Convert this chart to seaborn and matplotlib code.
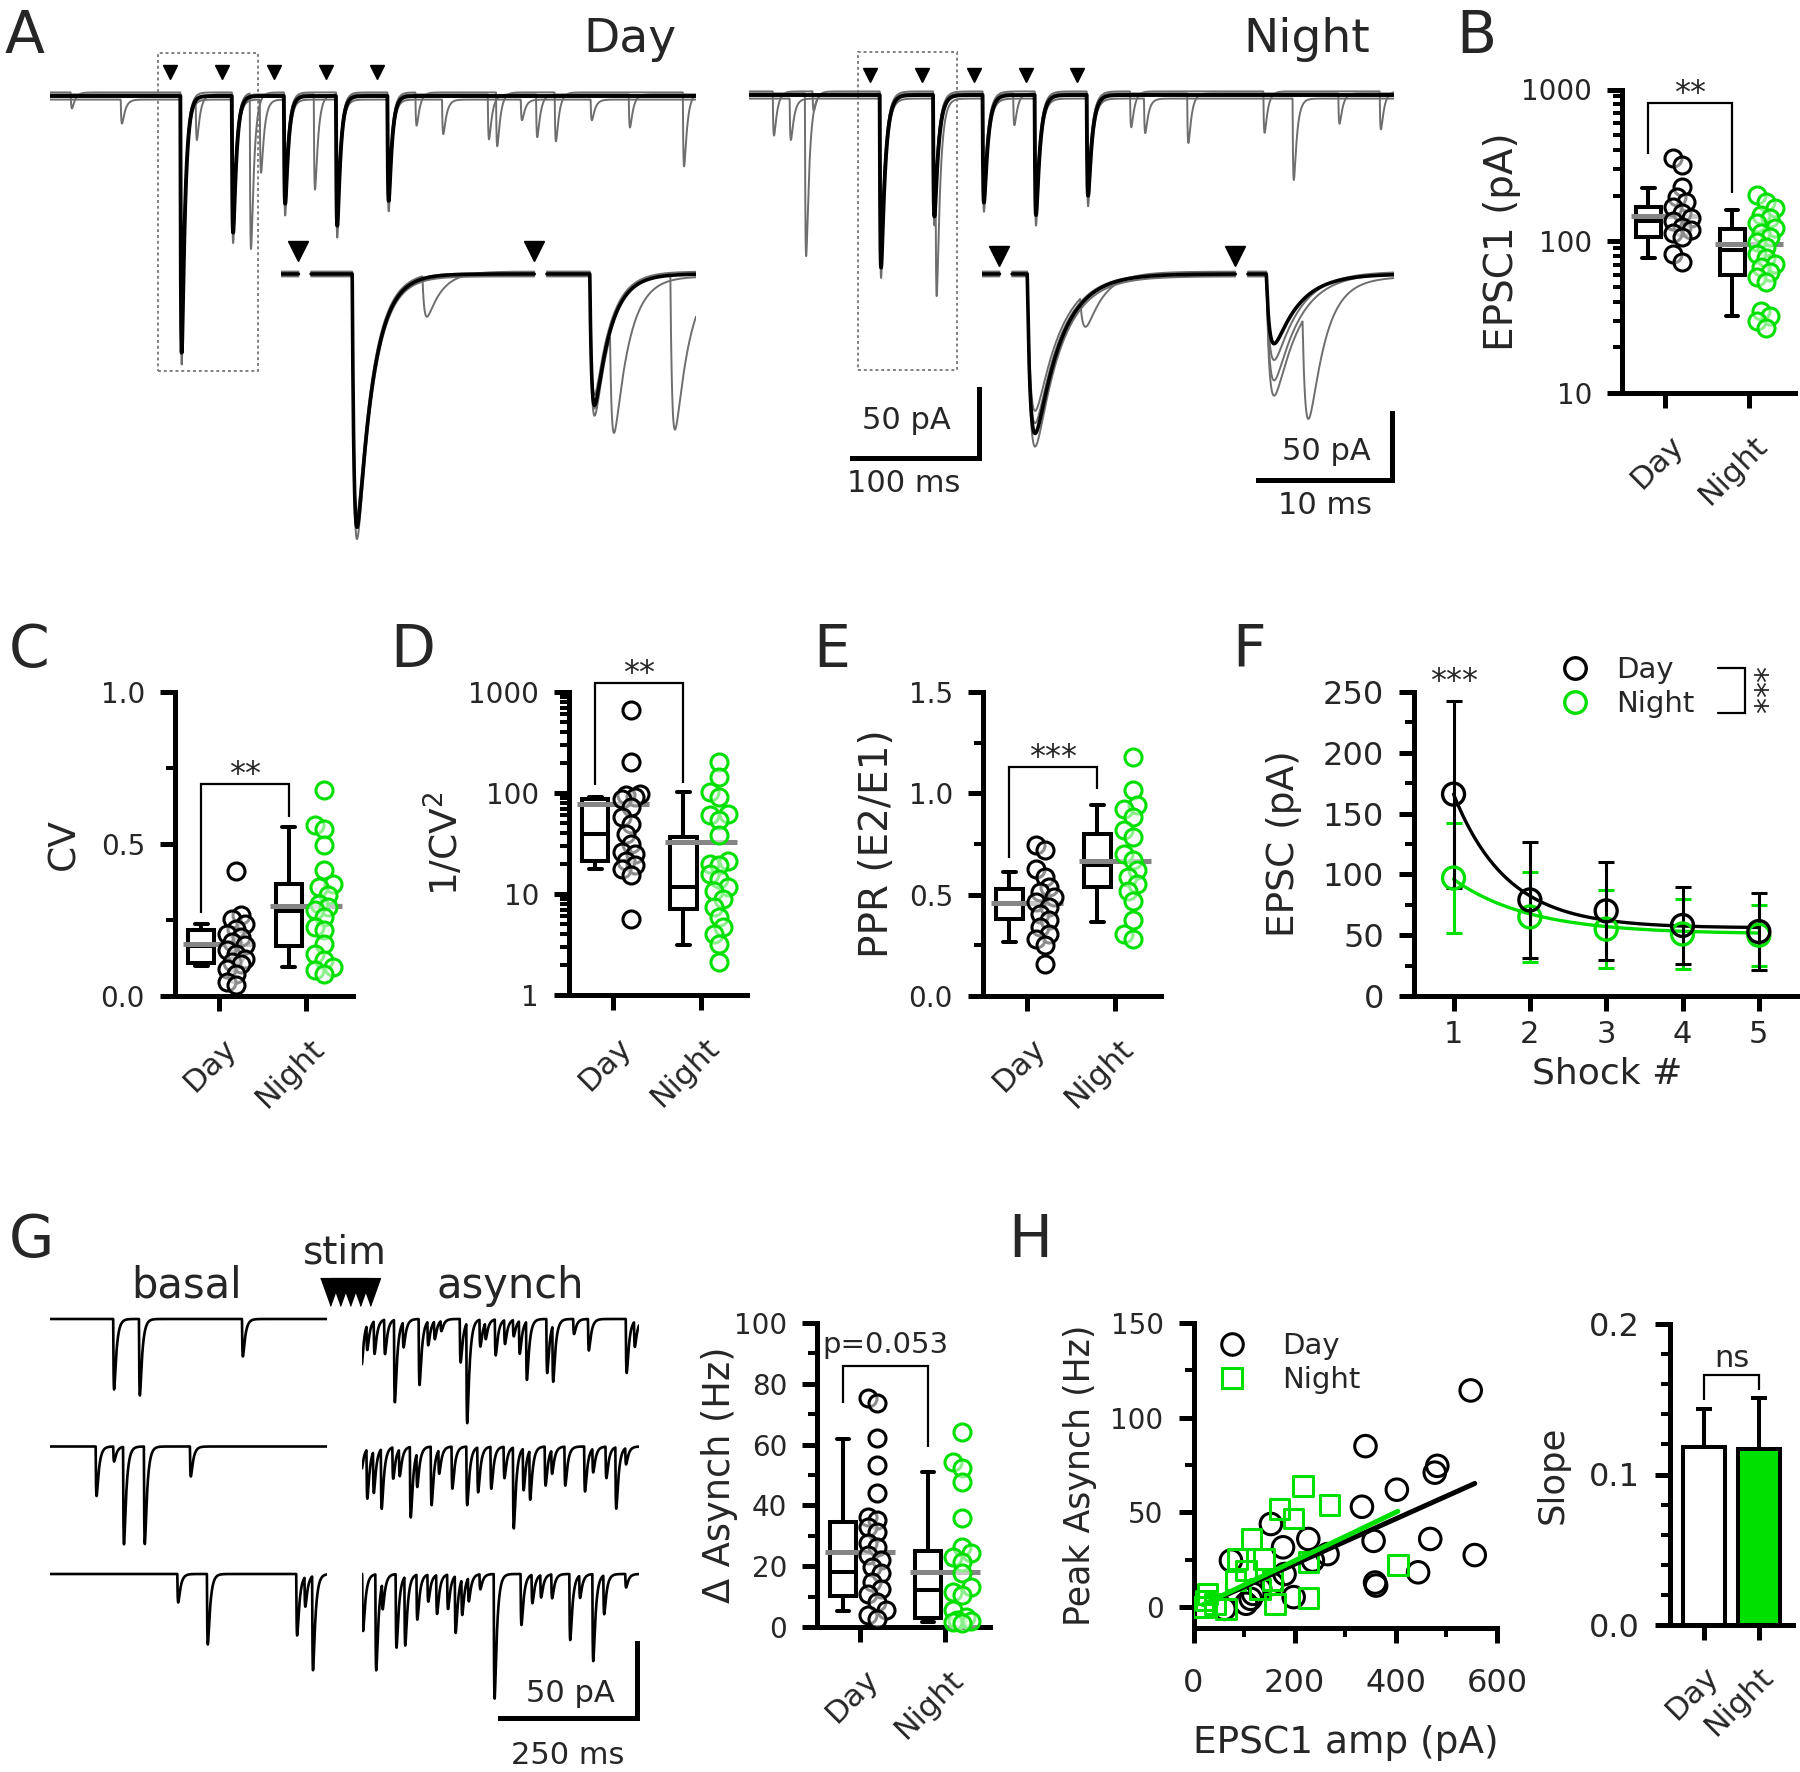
import numpy as np
import pandas as pd
import matplotlib
matplotlib.use("Agg")
import matplotlib.pyplot as plt
import matplotlib.transforms as mtransforms
from matplotlib.lines import Line2D
from matplotlib.patches import Rectangle
from matplotlib.ticker import (MultipleLocator, FixedLocator, FuncFormatter,
                               NullFormatter, NullLocator, LogLocator)
import seaborn as sns

# ======================= DATA =======================
GROUPS = ["Day", "Night"]

# ---- A: example traces (event peak times in ms, amplitudes in pA) ----
A_STIM_MS = [95, 136, 177, 218, 258]
A_DAY_PEAK_MS = [104, 144.5, 185.5, 226.5, 267]
A_DAY_AMP = [186, 99, 78, 94, 76]
A_DAY_SWEEPS = [[178, 92, 70, 88, 70], [192, 104, 84, 100, 81], [170, 86, 64, 82, 66]]
A_DAY_MINI_MS = [17.6, 57, 116, 158.6, 166.5, 209, 289, 310, 346, 352.5, 372, 384, 398.7, 427, 457, 499.6]
A_DAY_MINI_PA = [11.6, 17.4, 31, 113, 53, 69, 24, 25, 32.6, 39, 15, 31, 35.5, 15, 24, 53.6]
A_NIGHT_PEAK_MS = [104, 146, 185, 226, 267]
A_NIGHT_AMP = [125, 88, 78, 87, 73]
A_NIGHT_SWEEPS = [[115, 80, 70, 80, 66], [130, 92, 82, 92, 78], [108, 74, 64, 75, 60]]
A_NIGHT_MINI_MS = [19.7, 33, 45, 51, 148, 209, 301, 312, 346, 406, 429, 465, 497.6]
A_NIGHT_MINI_PA = [32, 30, 118, 14, 83, 23, 26, 25, 36, 30, 59, 22, 27.5]

A_INSET_STIM_MS = [1.3, 18.9]
A_DAY_INSET_PEAK_MS = [5.67, 23.4]
A_DAY_INSET_AMP = [189, 98]
A_DAY_INSET_SWEEPS = [[181, 92], [196, 104], [184, 101]]
A_DAY_INSET_MINI_MS = [10.9, 24.9, 29.4]
A_DAY_INSET_MINI_PA = [31, 82, 116]
A_NIGHT_INSET_PEAK_MS = [3.96, 21.8]
A_NIGHT_INSET_AMP = [119, 52]
A_NIGHT_INSET_SWEEPS = [[104, 66], [127, 89], [112, 80]]
A_NIGHT_INSET_MINI_MS = [7.8, 24.4]
A_NIGHT_INSET_MINI_PA = [25, 80]

# ---- B: EPSC1 (pA) ----
B_DAY_BOX = [77, 107, 135, 169, 226]          # whisker-low, Q1, median, Q3, whisker-high
B_NIGHT_BOX = [32, 60, 87, 120, 161]
B_MEAN = [147, 95.5]
B_DAY_PTS = [352, 318, 229, 197, 182, 169, 153, 142, 135, 125, 119, 113, 107, 83, 73]
B_NIGHT_PTS = [202, 182, 165, 149, 142, 131, 122, 113, 107, 99, 92, 83, 77, 71, 68, 63,
               58.5, 54, 34.5, 32, 29.6, 26.8]

# ---- C: CV ----
C_DAY_BOX = [0.099, 0.107, 0.165, 0.216, 0.236]
C_NIGHT_BOX = [0.095, 0.163, 0.28, 0.37, 0.556]
C_MEAN = [0.17, 0.296]
C_DAY_PTS = [0.41, 0.265, 0.254, 0.238, 0.221, 0.205, 0.194, 0.178, 0.167, 0.15, 0.139,
             0.123, 0.112, 0.106, 0.09, 0.073, 0.046, 0.035]
C_NIGHT_PTS = [0.677, 0.561, 0.55, 0.496, 0.413, 0.37, 0.359, 0.331, 0.304, 0.293, 0.282,
               0.26, 0.227, 0.216, 0.172, 0.139, 0.117, 0.095, 0.084, 0.073]

# ---- D: 1/CV^2 ----
D_DAY_BOX = [17.7, 21.3, 39.5, 88, 91]
D_NIGHT_BOX = [3.15, 7.1, 11.7, 36.5, 101.6]
D_MEAN = [78, 32.6]
D_DAY_PTS = [657, 202, 98, 95, 91, 88, 72, 57.5, 49.6, 39.5, 31.3, 26, 25, 21.3, 19.2,
             17.7, 15.3, 5.66]
D_NIGHT_PTS = [202, 143, 102, 91, 62, 60, 53.6, 38, 21.3, 20, 19.2, 15.8, 14.1, 11.7,
               10.8, 8.9, 7.4, 5.9, 4.7, 4.0, 3.2, 2.1]

# ---- E: PPR ----
E_DAY_BOX = [0.266, 0.382, 0.46, 0.53, 0.612]
E_NIGHT_BOX = [0.365, 0.538, 0.645, 0.80, 0.94]
E_MEAN = [0.459, 0.666]
E_DAY_PTS = [0.743, 0.72, 0.628, 0.587, 0.538, 0.513, 0.49, 0.464, 0.44, 0.406, 0.373,
             0.34, 0.307, 0.283, 0.25, 0.16]
E_NIGHT_PTS = [1.18, 1.015, 0.94, 0.924, 0.883, 0.817, 0.785, 0.702, 0.67, 0.62, 0.587,
               0.554, 0.52, 0.47, 0.373, 0.307, 0.283]

# ---- F: EPSC vs shock ----
SHOCK = [1, 2, 3, 4, 5]
F_DAY_MEAN = [166, 79, 70, 58, 53]
F_DAY_SD = [77, 48, 40, 32, 32]
F_NIGHT_MEAN = [97, 65, 55, 51, 50]
F_NIGHT_SD = [45, 37, 32, 29, 25]
F_DAY_FIT = (56, 110, 0.7)     # plateau, span, tau (shocks)
F_NIGHT_FIT = (51, 45, 1.0)

# ---- G: traces + delta asynch ----
G_BASAL_ROWS_MS = [[117, 164, 352], [85, 117, 135, 173, 257], [234, 288, 451, 466, 480]]
G_BASAL_ROWS_PA = [[47, 51, 25], [33, 10, 65, 65, 20], [19, 47, 41, 20, 63]]
G_ASYNCH_ROWS_MS = [
    [-1, 9.8, 23, 42, 60, 76, 105, 121, 133, 145, 180, 192, 216, 226, 244, 261, 277, 288,
     301, 338, 349, 387, 414, 483, 498],
    [-1, 9.8, 21.7, 36, 57, 69, 89, 101, 127, 141, 165, 192, 212, 236, 260, 277, 295, 307,
     335, 347, 371, 407, 422, 446, 464, 482],
    [2, 26, 38, 63, 79, 101, 121, 137, 157, 171, 183, 195, 216, 242, 291, 311, 327, 347,
     380, 398, 422, 442, 482]]
G_ASYNCH_ROWS_PA = [
    [33, 17, 22, 23, 55, 17, 44, 16, 12, 7, 29, 67, 18, 11, 24, 16, 11, 22, 39, 36, 38, 10,
     21, 36, 17],
    [16, 33, 28, 40, 21, 18, 47, 23, 39, 16, 28, 39, 30, 28, 21, 54, 28, 33, 26, 16, 26, 30,
     16, 21, 41, 11],
    [38, 64, 18, 49, 46, 30, 18, 26, 23, 38, 24, 16, 10, 83, 34, 19, 15, 16, 44, 15, 58, 26, 9]]
G_STIM_MS = [511, 529, 548, 566, 584]

G_DAY_BOX = [5.2, 10.1, 18.1, 34.6, 61.8]
G_NIGHT_BOX = [1.6, 3.0, 12.3, 25.1, 51.1]
G_MEAN = [24.7, 18.1]
G_DAY_PTS = [75.3, 73.8, 62.1, 53.3, 44, 36.3, 35.2, 33, 31.3, 27.5, 26.4, 23.6, 22, 19.8,
             17.6, 14.8, 12.6, 11, 8.2, 5.5, 3.8, 2.7]
G_NIGHT_PTS = [64.3, 54.4, 52.2, 47.8, 35.7, 26.4, 24.2, 23.1, 21.4, 17.6, 13.2, 11.5, 10.4,
               5.5, 3.3, 2.2, 2.0, 1.6, 1.3]

# ---- H: peak asynch vs EPSC1 ----
H_DAY_X = [548, 340, 482, 477, 402, 333, 153, 227, 356, 468, 177, 265, 556, 74, 236, 180,
           444, 359, 361, 156, 132, 198, 113, 104, 61, 118]
H_DAY_Y = [114.4, 85, 74.6, 71, 62, 53, 43.9, 36, 35, 36, 31.6, 28, 27.5, 24.6, 24.6, 17.5,
           18.4, 13, 11.4, 12.3, 9.6, 5.3, 4.4, 1.8, -0.9, 7]
H_NIGHT_X = [217, 269, 170, 198, 115, 404, 87, 140, 227, 104, 83, 156, 132, 28, 227, 161,
             24, 43, 19, 64]
H_NIGHT_Y = [64, 53.9, 51.8, 46.8, 36, 22.3, 25.4, 25.4, 24, 19.3, 14, 14, 9.6, 7, 4.7, 1.8,
             3.5, 1.8, 0, -0.9]
H_DAY_FIT = (0.1196, -1.2)     # slope, intercept
H_NIGHT_FIT = (0.128, -1.1)
SLOPE_MEAN = [0.1185, 0.117]
SLOPE_ERR = [0.0248, 0.0336]

# ======================= STYLE / HELPERS =======================
W, H, DPI = 1800, 1772, 100
GREEN = "#00e000"
GRAY_TRACE = "#6e6e6e"
MEAN_GRAY = "#858585"

sns.set_theme(style="ticks")
plt.rcParams["font.family"] = ["DejaVu Sans"]
plt.rcParams["mathtext.default"] = "regular"

fig = plt.figure(figsize=(W / DPI, H / DPI), dpi=DPI)
fig.patch.set_facecolor("white")


def add_ax(x0, y0, x1, y1):
    ax = fig.add_axes([x0 / W, 1 - y1 / H, (x1 - x0) / W, (y1 - y0) / H])
    ax.patch.set_visible(False)
    return ax


def ftext(x, y, s, **kw):
    return fig.text(x / W, 1 - y / H, s, **kw)


def fline(xs, ys, **kw):
    fig.add_artist(Line2D(np.asarray(xs, float) / W, 1 - np.asarray(ys, float) / H,
                          transform=fig.transFigure, **kw))


def style(ax, ysize=20, xsize=None, xpad=10.8, ypad=10.8):
    sns.despine(ax=ax)
    for sp in ("left", "bottom"):
        ax.spines[sp].set_linewidth(3.6)
        ax.spines[sp].set_color("black")
        ax.spines[sp].set_capstyle("projecting")
    ax.tick_params(which="major", direction="out", length=10.8, width=3.6, color="black")
    ax.tick_params(which="minor", direction="out", length=6.5, width=2.9, color="black")
    ax.tick_params(axis="y", labelsize=ysize, pad=ypad)
    ax.tick_params(axis="x", labelsize=xsize or ysize, pad=xpad)


def cat_axis(ax, dx=14, dy=47, size=22.5):
    ax.set_xticks([0, 1])
    ax.set_xticklabels(["", ""])
    ax.xaxis.set_minor_locator(NullLocator())
    ax.set_xlabel("")
    tr = (mtransforms.blended_transform_factory(ax.transData, ax.transAxes)
          + mtransforms.ScaledTranslation(dx / DPI, -dy / DPI, fig.dpi_scale_trans))
    for x, lab in zip([0, 1], GROUPS):
        ax.text(x, 0, lab, transform=tr, rotation=45, ha="right", va="center",
                rotation_mode="anchor", fontsize=size)


def ylab(ax, text, xc, x0, x1, size):
    ax.set_ylabel(text, fontsize=size, rotation=90, ha="center", va="center")
    ax.yaxis.set_label_coords((xc - x0) / (x1 - x0), 0.5)


def swarm_offsets(ax, x0, vals, diam=17.0, step=4.5, ncand=2, min_frac=0.62):
    vals = np.asarray(vals, float)
    disp = ax.transData.transform(np.column_stack([np.full(len(vals), x0), vals]))
    ys = disp[:, 1]
    ppu = ax.transData.transform([(x0 + 1, vals[0])])[0, 0] - disp[0, 0]
    cands = [0]
    for k in range(1, ncand + 1):
        cands += [-k, k]
    placed, offs = [], np.zeros(len(vals))
    for i in np.argsort(ys):
        best, best_d = 0.0, -1.0
        for c in cands:
            xo = c * step
            d = min((np.hypot(xo - px, ys[i] - py) for px, py in placed), default=1e9)
            if d >= min_frac * diam:
                best = xo
                break
            if d > best_d:
                best_d, best = d, xo
        placed.append((best, ys[i]))
        offs[i] = best / ppu
    return offs


def bracket(ax, x1, x2, top, y1, y2, text, dy_text=1, fs=23):
    ax.plot([x1, x1, x2, x2], [y1, top, top, y2], color="black", lw=1.6, clip_on=False,
            solid_joinstyle="miter", solid_capstyle="butt", zorder=5)
    tr = ax.transData + mtransforms.ScaledTranslation(0, dy_text / DPI, fig.dpi_scale_trans)
    ax.text((x1 + x2) / 2, top, text, transform=tr, ha="center", va="baseline",
            fontsize=fs, clip_on=False)


def box_panel(rect, box_day, box_night, pts_day, pts_night, means, ylim, xlim, log=False):
    ax = add_ax(*rect)
    df = pd.DataFrame({"pos": [-0.2] * 5 + [0.8] * 5, "val": list(box_day) + list(box_night)})
    sns.boxplot(data=df, x="pos", y="val", native_scale=True, whis=(0, 100), width=0.3,
                color="white", linecolor="black", linewidth=2.9, showfliers=False,
                log_scale=(False, True) if log else None, ax=ax)
    ax.set_xlim(*xlim)
    ax.set_ylim(*ylim)
    ax.hlines(means, [-0.41, 0.59], [0.41, 1.41], colors=MEAN_GRAY, lw=3.6, zorder=3)
    for x0, pts, col in [(0.2, pts_day, "black"), (1.2, pts_night, GREEN)]:
        offs = swarm_offsets(ax, x0, pts)
        sns.scatterplot(x=x0 + offs, y=pts, ax=ax, s=150, facecolor=(1, 1, 1, 0.55),
                        edgecolor=col, linewidth=2.2, zorder=4, legend=False, clip_on=False)
    style(ax)
    cat_axis(ax)
    return ax


def log_fmt(ax, majors):
    ax.yaxis.set_major_locator(FixedLocator(majors))
    ax.yaxis.set_minor_locator(LogLocator(base=10, subs=np.arange(2, 10)))
    ax.yaxis.set_major_formatter(FuncFormatter(lambda v, p: f"{v:g}"))
    ax.yaxis.set_minor_formatter(NullFormatter())


def epsc(t, t_peak, amp, tr, td):
    tp = tr * td / (td - tr) * np.log(td / tr)
    s = np.clip(t - (t_peak - tp), 0, None)
    norm = np.exp(-tp / td) - np.exp(-tp / tr)
    return -amp * (np.exp(-s / td) - np.exp(-s / tr)) / norm


def build(t, peaks, amps, tr, td):
    y = np.zeros_like(t)
    for p, a in zip(peaks, amps):
        y += epsc(t, p, a, tr, td)
    return y


def trace_axes(x0, x1, y0, y1, base, px_ms, px_pa):
    ax = add_ax(x0, y0, x1, y1)
    ax.set_xlim(0, (x1 - x0) / px_ms)
    ax.set_ylim(-(y1 - base) / px_pa, (base - y0) / px_pa)
    ax.axis("off")
    return ax


def scalebar(ax, t_corner, pa_corner, dt, dpa, lab_v, lab_h, off_v, off_h, fs=22):
    ax.plot([t_corner - dt, t_corner, t_corner], [pa_corner, pa_corner, pa_corner + dpa],
            color="black", lw=3.6, clip_on=False, solid_joinstyle="miter",
            solid_capstyle="projecting")
    ax.annotate(lab_v, xy=(t_corner, pa_corner), xytext=off_v, textcoords="offset pixels",
                ha="center", va="center", fontsize=fs)
    ax.annotate(lab_h, xy=(t_corner, pa_corner), xytext=off_h, textcoords="offset pixels",
                ha="center", va="center", fontsize=fs)


# ======================= PANEL A =======================
def top_trace(x0, x1, base, peaks, amps, sweeps, mini_t, mini_a, td_main, stim_y):
    ax = trace_axes(x0, x1, 30, 480, base, 1.27, 1.38)
    t = np.arange(0, (x1 - x0) / 1.27, 0.05)
    offsets = [2.6, -2.6, 1.2]
    n = len(sweeps)
    for i, sw in enumerate(sweeps):
        y = build(t, peaks, sw, 0.5, td_main) + build(t, mini_t[i::n], mini_a[i::n], 0.5, 2.5)
        ax.plot(t, y + offsets[i], color=GRAY_TRACE, lw=1.4)
    ax.plot(t, build(t, peaks, amps, 0.5, td_main), color="black", lw=2.8)
    ax.plot(A_STIM_MS, [stim_y] * len(A_STIM_MS), "v", color="black", ms=10.5, clip_on=False)
    ax.add_patch(Rectangle((85.5, -199.5), 78.5, 231, fill=False, ec="#808080", lw=1.4,
                           ls=(0, (1.5, 1.5)), clip_on=False))
    return ax


def inset_trace(x0, x1, peaks, amps, sweeps, mini_t, mini_a, tr, td, stim_y):
    ax = trace_axes(x0, x1, 225, 545, 274, 13.4, 1.34)
    t = np.arange(0, (x1 - x0) / 13.4, 0.005)
    gap = np.zeros_like(t, bool)
    for s in A_INSET_STIM_MS:
        gap |= (t > s) & (t < s + 0.95)
    n = len(sweeps)
    for i, sw in enumerate(sweeps):
        y = build(t, peaks, sw, tr, td) + build(t, mini_t[i::n], mini_a[i::n], tr, 1.1)
        y[gap] = np.nan
        ax.plot(t, y + [1.8, -1.8, 0.6][i], color=GRAY_TRACE, lw=1.4)
    yb = build(t, peaks, amps, tr, td)
    yb[gap] = np.nan
    ax.plot(t, yb, color="black", lw=2.6)
    ax.plot(A_INSET_STIM_MS, [stim_y] * 2, "v", color="black", ms=14, clip_on=False)
    return ax


top_trace(49.6, 695.7, 96, A_DAY_PEAK_MS, A_DAY_AMP, A_DAY_SWEEPS, A_DAY_MINI_MS,
          A_DAY_MINI_PA, 2.6, 17.4)
axN = top_trace(749, 1394, 95, A_NIGHT_PEAK_MS, A_NIGHT_AMP, A_NIGHT_SWEEPS, A_NIGHT_MINI_MS,
                A_NIGHT_MINI_PA, 3.2, 14.5)
inset_trace(281, 696, A_DAY_INSET_PEAK_MS, A_DAY_INSET_AMP, A_DAY_INSET_SWEEPS,
            A_DAY_INSET_MINI_MS, A_DAY_INSET_MINI_PA, 0.15, 1.2, 16.8)
axNi = inset_trace(982, 1394, A_NIGHT_INSET_PEAK_MS, A_NIGHT_INSET_AMP, A_NIGHT_INSET_SWEEPS,
                   A_NIGHT_INSET_MINI_MS, A_NIGHT_INSET_MINI_PA, 0.25, 1.9, 13.8)
scalebar(axN, 181.1, -263, 100, 50, "50 pA", "100 ms", (-73, 37), (-75, -26))
scalebar(axNi, 30.6, -153.7, 10, 50, "50 pA", "10 ms", (-66, 28), (-67, -26))

ftext(677, 52, "Day", ha="right", va="baseline", fontsize=34)
ftext(1370, 52, "Night", ha="right", va="baseline", fontsize=34)

# ======================= PANEL B =======================
rB = (1622, 89.5, 1795, 393)
axB = box_panel(rB, B_DAY_BOX, B_NIGHT_BOX, B_DAY_PTS, B_NIGHT_PTS, B_MEAN, (10, 1000),
                (-0.512, 1.548), log=True)
log_fmt(axB, [10, 100, 1000])
ylab(axB, "EPSC1 (pA)", 1502, rB[0], rB[2], 28)
bracket(axB, -0.2, 0.8, 815, 376, 208, "**")

# ======================= PANEL C =======================
rC = (175, 692, 353, 996)
axC = box_panel(rC, C_DAY_BOX, C_NIGHT_BOX, C_DAY_PTS, C_NIGHT_PTS, C_MEAN, (0, 1),
                (-0.5, 1.535))
axC.yaxis.set_major_locator(FixedLocator([0, 0.5, 1.0]))
axC.yaxis.set_minor_locator(FixedLocator([0.25, 0.75]))
axC.yaxis.set_major_formatter(FuncFormatter(lambda v, p: f"{v:.1f}"))
ylab(axC, "CV", 64, rC[0], rC[2], 27)
bracket(axC, -0.2, 0.8, 0.696, 0.272, 0.589, "**")

# ======================= PANEL D =======================
rD = (569, 692, 747, 995)
axD = box_panel(rD, D_DAY_BOX, D_NIGHT_BOX, D_DAY_PTS, D_NIGHT_PTS, D_MEAN, (1, 1000),
                (-0.497, 1.52), log=True)
log_fmt(axD, [1, 10, 100, 1000])
ylab(axD, "1/CV$^2$", 445, rD[0], rD[2], 27)
bracket(axD, -0.2, 0.8, 1222, 120, 126, "**")

# ======================= PANEL E =======================
rE = (983, 692, 1161, 996)
axE = box_panel(rE, E_DAY_BOX, E_NIGHT_BOX, E_DAY_PTS, E_NIGHT_PTS, E_MEAN, (0, 1.5),
                (-0.5, 1.523))
axE.yaxis.set_major_locator(FixedLocator([0, 0.5, 1.0, 1.5]))
axE.yaxis.set_minor_locator(FixedLocator([0.25, 0.75, 1.25]))
axE.yaxis.set_major_formatter(FuncFormatter(lambda v, p: f"{v:.1f}"))
ylab(axE, "PPR (E2/E1)", 877, rE[0], rE[2], 28)
bracket(axE, -0.2, 0.8, 1.13, 0.683, 1.023, "***")

# ======================= PANEL F =======================
rF = (1414, 692, 1797, 996)
axF = add_ax(*rF)
xf = np.linspace(1, 5, 200)
for fit, col, z in [(F_NIGHT_FIT, GREEN, 2), (F_DAY_FIT, "black", 3)]:
    sns.lineplot(x=xf, y=fit[0] + fit[1] * np.exp(-(xf - 1) / fit[2]), color=col, lw=2.4,
                 ax=axF, zorder=z, legend=False)
axF.errorbar(SHOCK, F_NIGHT_MEAN, yerr=F_NIGHT_SD, fmt="none", ecolor=GREEN, elinewidth=2.2,
             capsize=5.5, capthick=2.2, zorder=2)
axF.errorbar(SHOCK, F_DAY_MEAN, yerr=F_DAY_SD, fmt="none", ecolor="black", elinewidth=2.2,
             capsize=5.5, capthick=2.2, zorder=3)
sns.scatterplot(x=SHOCK, y=F_NIGHT_MEAN, ax=axF, s=250, facecolor="none", edgecolor=GREEN,
                linewidth=2.4, zorder=4, legend=False)
sns.scatterplot(x=SHOCK, y=F_DAY_MEAN, ax=axF, s=250, facecolor="none", edgecolor="black",
                linewidth=2.4, zorder=5, legend=False)
axF.set_xlim(0.482, 5.5)
axF.set_ylim(0, 250)
axF.xaxis.set_major_locator(FixedLocator(SHOCK))
axF.xaxis.set_minor_locator(NullLocator())
axF.yaxis.set_major_locator(MultipleLocator(50))
axF.yaxis.set_minor_locator(MultipleLocator(25))
style(axF, ysize=23, xsize=22, xpad=6.5)
axF.set_ylabel("EPSC (pA)", fontsize=27, ha="center", va="center")
axF.yaxis.set_label_coords((1284 - rF[0]) / (rF[2] - rF[0]), 0.5)
axF.set_xlabel("Shock #", fontsize=26, ha="center", va="center")
axF.xaxis.set_label_coords((1607 - rF[0]) / (rF[2] - rF[0]), -(1073 - rF[3]) / (rF[3] - rF[1]))
axF.text(1, 252, "***", ha="center", va="baseline", fontsize=23, clip_on=False)
hF = [Line2D([], [], marker="o", ls="none", mfc="none", mec="black", mew=2.4, ms=15.5),
      Line2D([], [], marker="o", ls="none", mfc="none", mec=GREEN, mew=2.4, ms=15.5)]
axF.legend(hF, GROUPS, loc="center left", bbox_to_anchor=(1549 / W, 1 - 687 / H),
           bbox_transform=fig.transFigure, frameon=False, fontsize=21, handlelength=1.0,
           handletextpad=0.9, labelspacing=0.2, borderpad=0.4, borderaxespad=0)
fline([1718, 1745, 1745, 1718], [668, 668, 713, 713], color="black", lw=1.6,
      solid_joinstyle="miter")
ftext(1753, 690, "***", rotation=270, ha="center", va="center", fontsize=23)

# ======================= PANEL G traces =======================
def g_axes(x0, rows_t, rows_a):
    ax = trace_axes(x0, x0 + 277, 1280, 1730, 1319, 0.548, 1.5)
    t = np.arange(0, 277 / 0.548, 0.1)
    for r, (ts, amps) in enumerate(zip(rows_t, rows_a)):
        ax.plot(t, build(t, ts, amps, 0.8, 4.5) - 85 * r, color="black", lw=1.9)
    return ax


axGb = g_axes(50, G_BASAL_ROWS_MS, G_BASAL_ROWS_PA)
axGa = g_axes(362, G_ASYNCH_ROWS_MS, G_ASYNCH_ROWS_PA)
stim_marker = [(-0.5, 0.7), (0.5, 0.7), (0, -0.7)]
axGb.plot(G_STIM_MS, [18] * len(G_STIM_MS), ls="none", marker=stim_marker, ms=20,
          color="black", clip_on=False)
scalebar(axGa, 502, -266, 250, 50, "50 pA", "250 ms", (-67, 25), (-69, -38))
ftext(187, 1298, "basal", ha="center", va="baseline", fontsize=30)
ftext(345, 1263, "stim", ha="center", va="baseline", fontsize=28)
ftext(510, 1298, "asynch", ha="center", va="baseline", fontsize=30)

# ======================= PANEL G box =======================
rG = (817, 1323, 990, 1627)
axG = box_panel(rG, G_DAY_BOX, G_NIGHT_BOX, G_DAY_PTS, G_NIGHT_PTS, G_MEAN, (0, 100),
                (-0.506, 1.53))
axG.yaxis.set_major_locator(MultipleLocator(20))
axG.yaxis.set_minor_locator(MultipleLocator(10))
axG.yaxis.set_major_formatter(FuncFormatter(lambda v, p: f"{v:g}"))
ylab(axG, "\u0394 Asynch (Hz)", 720, rG[0], rG[2], 26.5)
bracket(axG, -0.2, 0.8, 85.9, 73.8, 59.3, "p=0.053", dy_text=13, fs=21)

# ======================= PANEL H scatter =======================
rH = (1193.5, 1323, 1497, 1628)
axH = add_ax(*rH)
sns.scatterplot(x=H_DAY_X, y=H_DAY_Y, ax=axH, marker="o", s=240, facecolor="none",
                edgecolor="black", linewidth=2.2, zorder=3, legend=False)
sns.scatterplot(x=H_NIGHT_X, y=H_NIGHT_Y, ax=axH, marker="s", s=200, facecolor="none",
                edgecolor=GREEN, linewidth=2.2, zorder=3, legend=False)
for xs, fit, col in [(H_DAY_X, H_DAY_FIT, "black"), (H_NIGHT_X, H_NIGHT_FIT, GREEN)]:
    xl = np.array([min(xs), max(xs)], float)
    sns.lineplot(x=xl, y=fit[0] * xl + fit[1], color=col, lw=3.6, ax=axH, zorder=4,
                 legend=False)
axH.set_xlim(0, 600)
axH.set_ylim(-11, 150)
axH.xaxis.set_major_locator(MultipleLocator(200))
axH.xaxis.set_minor_locator(MultipleLocator(100))
axH.yaxis.set_major_locator(MultipleLocator(50))
axH.yaxis.set_minor_locator(MultipleLocator(25))
style(axH, ysize=20, xsize=23, xpad=18)
axH.set_ylabel("Peak Asynch (Hz)", fontsize=25, ha="center", va="center")
axH.yaxis.set_label_coords((1080 - rH[0]) / (rH[2] - rH[0]), 0.5)
axH.set_xlabel("EPSC1 amp (pA)", fontsize=27, ha="center", va="center")
axH.xaxis.set_label_coords((1346 - rH[0]) / (rH[2] - rH[0]), -(1743 - rH[3]) / (rH[3] - rH[1]))
hH = [Line2D([], [], marker="o", ls="none", mfc="none", mec="black", mew=2.2, ms=15.5),
      Line2D([], [], marker="s", ls="none", mfc="none", mec=GREEN, mew=2.2, ms=14.5)]
axH.legend(hH, GROUPS, loc="center left", bbox_to_anchor=(1206 / W, 1 - 1363 / H),
           bbox_transform=fig.transFigure, frameon=False, fontsize=21, handlelength=1.0,
           handletextpad=1.2, labelspacing=0.2, borderpad=0.4, borderaxespad=0)

# ======================= PANEL H bars =======================
rS = (1670, 1324, 1793, 1625)
axS = add_ax(*rS)
sns.barplot(x=GROUPS, y=SLOPE_MEAN, hue=GROUPS, palette={"Day": "white", "Night": GREEN},
            saturation=1, edgecolor="black", linewidth=2.9, width=0.78, errorbar=None,
            legend=False, ax=axS, zorder=3)
axS.errorbar([0, 1], SLOPE_MEAN, yerr=[[0, 0], SLOPE_ERR], fmt="none", ecolor="black",
             elinewidth=2.9, capsize=6, capthick=2.9, zorder=2)
axS.set_xlim(-0.618, 1.618)
axS.set_ylim(0, 0.2)
axS.yaxis.set_major_locator(FixedLocator([0, 0.1, 0.2]))
axS.yaxis.set_minor_locator(MultipleLocator(0.02))
axS.yaxis.set_major_formatter(FuncFormatter(lambda v, p: f"{v:.1f}"))
style(axS, ysize=23)
cat_axis(axS, dx=10, dy=46)
ylab(axS, "Slope", 1553, rS[0], rS[2], 25.5)
bracket(axS, 0, 1, 0.1661, 0.1495, 0.156, "ns", dy_text=8, fs=22)

# ======================= PANEL LETTERS =======================
for lab, x, y in [("A", 5, 53), ("B", 1456, 53), ("C", 9, 667), ("D", 390, 667),
                  ("E", 813, 667), ("F", 1232, 667), ("G", 9, 1257), ("H", 1008, 1257)]:
    ftext(x, y, lab, ha="left", va="baseline", fontsize=42)

fig.savefig("out.png", dpi=DPI, facecolor="white")
